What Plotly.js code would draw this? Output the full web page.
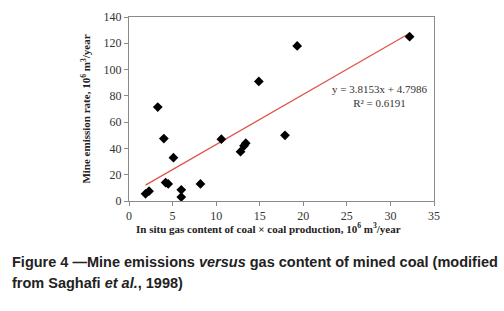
<!DOCTYPE html>
<html>
<head>
<meta charset="utf-8">
<script src="https://cdn.plot.ly/plotly-3.0.1.min.js"></script>
<style>html,body{margin:0;padding:0;background:#fff;}#chart{width:504px;height:311px;}</style>
</head>
<body>
<div id="chart"></div>
<script>
// Data
var gasContent = [1.9, 2.3, 3.3, 4.0, 4.2, 4.5, 5.1, 6.0, 6.0, 8.2, 10.6, 12.8, 13.2, 13.4, 14.9, 17.9, 19.3, 32.2];
var emissionRate = [5.5, 7.5, 71.5, 47.5, 14, 13, 33, 8.5, 3, 13, 47, 37.5, 42, 44, 91, 50, 118, 125];
var trendSlope = 3.8153;
var trendIntercept = 4.7986;
var trendR2 = 0.6191;
var xTicks = [0, 5, 10, 15, 20, 25, 30, 35];
var yTicks = [0, 20, 40, 60, 80, 100, 120, 140];

var xMin = Math.min.apply(null, gasContent);
var xMax = Math.max.apply(null, gasContent);
var trendX = [xMin, xMax];
var trendY = trendX.map(function (v) { return trendSlope * v + trendIntercept; });

var serif = 'Liberation Serif, Times New Roman, serif';
var sans = 'Liberation Sans, Arial, sans-serif';

var traces = [
  {
    x: trendX, y: trendY, type: 'scatter', mode: 'lines',
    line: {color: '#e0564c', width: 1.3}, hoverinfo: 'skip'
  },
  {
    x: gasContent, y: emissionRate, type: 'scatter', mode: 'markers',
    marker: {symbol: 'diamond', size: 7.5, color: '#000'}
  }
];

var axisCommon = {
  showgrid: false, zeroline: false, showline: true, mirror: true,
  linecolor: '#8a8a8a', linewidth: 1,
  ticks: 'outside', ticklen: 4, tickcolor: '#8a8a8a',
  tickfont: {family: serif, size: 12, color: '#333'}
};

var layout = {
  width: 504, height: 311,
  margin: {l: 129, r: 70, t: 17, b: 110},
  paper_bgcolor: '#fff', plot_bgcolor: '#fff',
  showlegend: false,
  xaxis: Object.assign({}, axisCommon, {
    range: [0, 35], tickvals: xTicks
  }),
  yaxis: Object.assign({}, axisCommon, {
    range: [0, 140], tickvals: yTicks,
    title: {text: 'Mine emission rate, 10<sup>6</sup> m<sup>3</sup>/year',
            font: {family: serif, size: 11, color: '#222', weight: 'bold'}, standoff: 10}
  }),
  annotations: [
    {
      x: 0.456, y: -0.148, xref: 'paper', yref: 'paper', xanchor: 'center', yanchor: 'middle',
      showarrow: false,
      text: 'In situ gas content of coal × coal production, 10<sup>6</sup> m<sup>3</sup>/year',
      font: {family: serif, size: 11, color: '#222', weight: 'bold'}
    },
    {
      x: 28.8, y: 80, xref: 'x', yref: 'y', showarrow: false,
      text: 'y = ' + trendSlope + 'x + ' + trendIntercept + '<br>R² = ' + trendR2,
      font: {family: serif, size: 11, color: '#333'}, align: 'center'
    },
    {
      x: -0.39, y: -0.33, xref: 'paper', yref: 'paper', xanchor: 'left', yanchor: 'middle',
      showarrow: false, align: 'left',
      text: '<b>Figure 4 —Mine emissions <i>versus</i> gas content of mined coal (modified</b>',
      font: {family: sans, size: 14.5, color: '#222'}
    },
    {
      x: -0.39, y: -0.445, xref: 'paper', yref: 'paper', xanchor: 'left', yanchor: 'middle',
      showarrow: false, align: 'left',
      text: '<b>from Saghafi <i>et al.</i>, 1998)</b>',
      font: {family: sans, size: 14.5, color: '#222'}
    }
  ]
};

Plotly.newPlot('chart', traces, layout, {displayModeBar: false, staticPlot: true});
</script>
</body>
</html>
